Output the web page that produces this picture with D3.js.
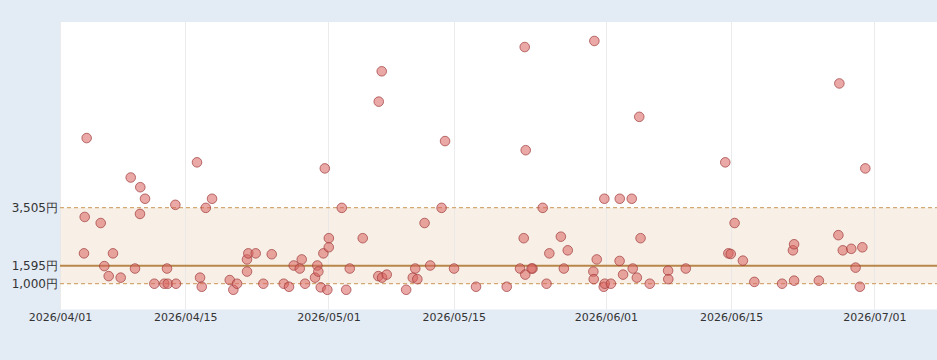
<!DOCTYPE html>
<html>
<head>
<meta charset="utf-8">
<title>Price scatter</title>
<script src="https://d3js.org/d3.v7.min.js"></script>
<style>
  body { margin: 0; background: #e3ebf5; }
  text { font-family: "DejaVu Sans", Verdana, sans-serif; fill: #333; }
</style>
</head>
<body>
<div id="chart"></div>
<script>
// observation times and prices (yen)
var times = [
  "2026-04-03 23:30","2026-04-03 18:15","2026-04-05 13:10","2026-04-03 16:20","2026-04-06 22:05",
  "2026-04-05 22:50","2026-04-06 10:35","2026-04-07 18:45","2026-04-08 21:40","2026-04-09 23:20",
  "2026-04-10 12:00","2026-04-09 22:30","2026-04-09 09:10","2026-04-11 13:00","2026-04-12 15:50",
  "2026-04-13 01:00","2026-04-12 23:00","2026-04-13 23:05","2026-04-13 21:20","2026-04-16 07:25",
  "2026-04-17 07:00","2026-04-17 23:45","2026-04-16 15:35","2026-04-16 20:10","2026-04-19 23:15",
  "2026-04-20 08:50","2026-04-20 18:45","2026-04-21 21:35","2026-04-21 21:30","2026-04-22 01:00",
  "2026-04-22 20:50","2026-04-23 17:15","2026-04-24 15:50","2026-04-26 00:00","2026-04-26 14:10",
  "2026-04-27 02:50","2026-04-27 19:00","2026-04-28 00:15","2026-04-28 09:10","2026-04-29 12:00",
  "2026-04-29 18:10","2026-04-29 20:50","2026-04-30 03:20","2026-04-30 20:55","2026-04-30 10:20",
  "2026-05-01 00:45","2026-05-01 01:00","2026-04-30 14:10","2026-05-02 11:45","2026-05-02 23:35",
  "2026-05-03 09:05","2026-05-04 19:55","2026-05-06 22:50","2026-05-06 14:50","2026-05-06 13:40",
  "2026-05-06 23:45","2026-05-07 12:15","2026-05-09 16:20","2026-05-10 10:05","2026-05-10 22:20",
  "2026-05-10 16:45","2026-05-11 17:45","2026-05-12 08:55","2026-05-13 15:20","2026-05-14 00:40",
  "2026-05-15 00:45","2026-05-17 11:45","2026-05-20 22:05","2026-05-22 22:20","2026-05-23 01:00",
  "2026-05-22 19:40","2026-05-22 09:50","2026-05-22 23:45","2026-05-23 19:15","2026-05-23 16:35",
  "2026-05-24 22:35","2026-05-25 08:50","2026-05-25 16:20","2026-05-26 23:15","2026-05-27 17:45",
  "2026-05-27 07:15","2026-05-30 17:05","2026-05-30 23:30","2026-05-30 14:25","2026-05-30 15:25",
  "2026-05-31 19:55","2026-05-31 18:15","2026-05-31 20:55","2026-06-01 13:25","2026-06-02 13:10",
  "2026-06-03 21:20","2026-06-02 12:45","2026-06-02 22:05","2026-06-04 00:00","2026-06-04 11:00",
  "2026-06-04 17:30","2026-06-04 21:00","2026-06-05 21:40","2026-06-07 22:50","2026-06-07 23:20",
  "2026-06-09 22:15","2026-06-14 08:10","2026-06-15 09:10","2026-06-14 16:30","2026-06-14 22:50",
  "2026-06-16 07:25","2026-06-17 14:10","2026-06-20 16:35","2026-06-22 00:45","2026-06-21 21:35",
  "2026-06-22 00:45","2026-06-24 19:10","2026-06-27 02:10","2026-06-26 23:30","2026-06-27 11:20",
  "2026-06-28 10:05","2026-06-29 15:50","2026-06-28 21:40","2026-06-29 09:10","2026-06-29 23:45"
];
var prices = [
  5800,3200,3000,2000,2000,
  1580,1250,1200,4500,4180,
  3800,3300,1500,1000,1000,
  1000,1500,1000,3600,5000,
  3500,3800,1200,900,1120,
  800,1000,1400,1800,2000,
  2000,1000,1970,1000,900,
  1600,1500,1800,1000,1200,
  1600,1400,880,800,2000,
  2200,2500,4800,3500,800,
  1500,2500,8000,7000,1250,
  1200,1300,800,1200,1150,
  1500,3000,1600,3500,5700,
  1500,900,900,8800,5400,
  2500,1500,1300,1500,1500,
  3500,1000,2000,2550,2100,
  1500,9000,1800,1400,1150,
  3800,900,1000,1000,3800,
  3800,1750,1300,1500,1200,
  6500,2500,1000,1430,1150,
  1500,5000,3000,2000,1980,
  1760,1060,1000,1100,2100,
  2300,1100,7600,2600,2100,
  2150,2200,1530,900,4800
];

// reference lines: lower bound, typical price, upper bound
var refLow = 1000, refMid = 1595, refHigh = 3505;
var yTickValues = [1000, 1595, 3505];
var xTickDates = ["2026-04-01","2026-04-15","2026-05-01","2026-05-15","2026-06-01","2026-06-15","2026-07-01"];
var xStart = "2026-04-01", xEnd = "2026-07-08";

var W = 937, H = 360;
var margin = {top: 22, right: 0, bottom: 50.5, left: 60};
var iw = W - margin.left - margin.right,
    ih = H - margin.top - margin.bottom;

var parseTime = d3.timeParse("%Y-%m-%d %H:%M");
var parseDay = d3.timeParse("%Y-%m-%d");

var points = times.map(function (t, i) {
  return {date: parseTime(t), price: prices[i]};
});

var svg = d3.select("#chart").append("svg")
  .attr("width", W)
  .attr("height", H);

var g = svg.append("g")
  .attr("transform", "translate(" + margin.left + "," + margin.top + ")");

var x = d3.scaleTime()
  .domain([parseDay(xStart), parseDay(xEnd)])
  .range([0, iw]);

var y = d3.scaleLinear()
  .domain([150, 9625])
  .range([ih, 0]);

// plot background
g.append("rect")
  .attr("width", iw)
  .attr("height", ih)
  .attr("fill", "#ffffff");

// band between low and high
g.append("rect")
  .attr("x", 0)
  .attr("width", iw)
  .attr("y", y(refHigh))
  .attr("height", y(refLow) - y(refHigh))
  .attr("fill", "#f8f0e6");

// vertical grid
g.selectAll(".vgrid")
  .data(xTickDates.map(parseDay))
  .enter().append("line")
  .attr("class", "vgrid")
  .attr("x1", function (d) { return Math.round(x(d)) + 0.5; })
  .attr("x2", function (d) { return Math.round(x(d)) + 0.5; })
  .attr("y1", 0)
  .attr("y2", ih)
  .attr("stroke", "#e6e6e6")
  .attr("stroke-opacity", 0.8)
  .attr("stroke-width", 1);

// dashed bounds
[refLow, refHigh].forEach(function (v) {
  g.append("line")
    .attr("x1", 0).attr("x2", iw)
    .attr("y1", y(v)).attr("y2", y(v))
    .attr("stroke", "#d4a872")
    .attr("stroke-width", 1.3)
    .attr("stroke-dasharray", "4,3");
});

// typical price line
g.append("line")
  .attr("x1", 0).attr("x2", iw)
  .attr("y1", y(refMid)).attr("y2", y(refMid))
  .attr("stroke", "#b9864a")
  .attr("stroke-width", 2);

// points
g.selectAll(".dot")
  .data(points)
  .enter().append("circle")
  .attr("class", "dot")
  .attr("cx", function (d) { return x(d.date); })
  .attr("cy", function (d) { return y(d.price); })
  .attr("r", 4.8)
  .attr("fill", "#d8625f")
  .attr("fill-opacity", 0.55)
  .attr("stroke", "#9e3a3a")
  .attr("stroke-opacity", 0.7)
  .attr("stroke-width", 1);

// y axis labels
var yAxis = d3.axisLeft(y)
  .tickValues(yTickValues)
  .tickSize(0)
  .tickPadding(2)
  .tickFormat(function (d) { return d3.format(",")(d) + "円"; });

var ya = g.append("g").call(yAxis);
ya.select(".domain").remove();
ya.selectAll("text")
  .attr("font-size", "12px")
  .attr("font-family", "DejaVu Sans, sans-serif")
  .attr("fill", "#333");

// x axis labels
var xAxis = d3.axisBottom(x)
  .tickValues(xTickDates.map(parseDay))
  .tickSize(0)
  .tickPadding(4)
  .tickFormat(d3.timeFormat("%Y/%m/%d"));

var xa = g.append("g")
  .attr("transform", "translate(0," + ih + ")")
  .call(xAxis);
xa.select(".domain").remove();
xa.selectAll("text")
  .attr("font-size", "11px")
  .attr("font-family", "DejaVu Sans, sans-serif")
  .attr("fill", "#222");
</script>
</body>
</html>
